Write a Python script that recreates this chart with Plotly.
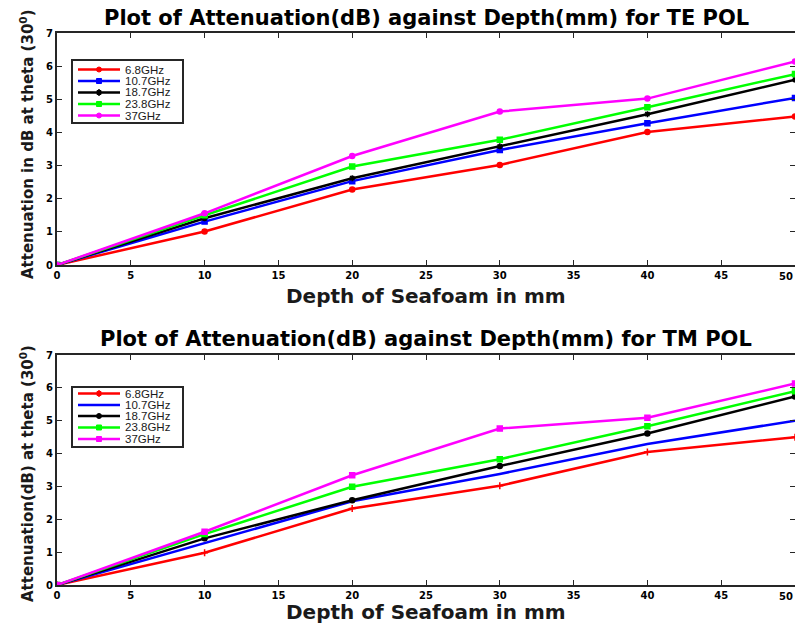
import plotly.graph_objects as go

# Depth of seafoam layer (mm)
depth = [0, 10, 20, 30, 40, 50]

freq_labels = ["6.8GHz", "10.7GHz", "18.7GHz", "23.8GHz", "37GHz"]
colors = ["#ff0000", "#0000ff", "#000000", "#00ff00", "#ff00ff"]

# Attenuation (dB) at theta = 30 deg, TE polarisation
te_68 = [0, 1.01, 2.28, 3.02, 4.01, 4.48]
te_107 = [0, 1.31, 2.53, 3.47, 4.28, 5.04]
te_187 = [0, 1.41, 2.62, 3.58, 4.55, 5.59]
te_238 = [0, 1.50, 2.97, 3.78, 4.76, 5.76]
te_37 = [0, 1.56, 3.29, 4.63, 5.02, 6.14]

# Attenuation (dB) at theta = 30 deg, TM polarisation
tm_68 = [0, 0.98, 2.33, 3.02, 4.05, 4.50]
tm_107 = [0, 1.27, 2.55, 3.38, 4.29, 5.00]
tm_187 = [0, 1.42, 2.58, 3.62, 4.61, 5.74]
tm_238 = [0, 1.55, 2.99, 3.83, 4.83, 5.90]
tm_37 = [0, 1.62, 3.34, 4.76, 5.09, 6.13]

x_ticks = [0, 5, 10, 15, 20, 25, 30, 35, 40, 45, 50]
y_ticks = [0, 1, 2, 3, 4, 5, 6, 7]

te_series = [te_68, te_107, te_187, te_238, te_37]
tm_series = [tm_68, tm_107, tm_187, tm_238, tm_37]
te_symbols = ["circle", "square", "asterisk-open", "square", "circle"]
tm_symbols = ["cross-thin-open", None, "circle", "square", "square"]

W, H = 795, 623
FONT = "DejaVu Sans, Liberation Sans, sans-serif"
TICKFONT = "Liberation Sans, Arial, sans-serif"
tick_font = dict(family=FONT, size=10, color="#000000", weight="bold")

fig = go.Figure()

for vals, name, col, sym in zip(te_series, freq_labels, colors, te_symbols):
    fig.add_trace(go.Scatter(
        x=depth, y=vals, name=name, mode="lines+markers", showlegend=False,
        line=dict(color=col, width=2.5),
        marker=dict(symbol=sym, size=5, color=col, line=dict(color=col, width=1.5)),
        xaxis="x", yaxis="y"))

for vals, name, col, sym in zip(tm_series, freq_labels, colors, tm_symbols):
    mode = "lines" if sym is None else "lines+markers"
    fig.add_trace(go.Scatter(
        x=depth, y=vals, name=name, mode=mode, showlegend=False,
        line=dict(color=col, width=2.5),
        marker=dict(symbol=sym or "circle", size=5, color=col, line=dict(color=col, width=1.5)),
        xaxis="x2", yaxis="y2"))

x0 = 57 / W
top_dom = [(H - 265) / H, (H - 33) / H]
bot_dom = [(H - 585) / H, (H - 355) / H]

axis_common = dict(
    showline=True, linecolor="#262626", linewidth=2, mirror="ticks",
    ticks="inside", ticklen=5, tickcolor="#262626", tickwidth=1,
    showgrid=False, zeroline=False, automargin=False,
    tickfont=tick_font,
)

fig.update_layout(
    width=W, height=H,
    margin=dict(l=0, r=0, t=0, b=0),
    paper_bgcolor="white", plot_bgcolor="white",
    showlegend=False,
    xaxis=dict(domain=[x0, 1], range=[0, 50], tickvals=x_ticks, anchor="y", **axis_common),
    yaxis=dict(domain=top_dom, range=[0, 7], tickvals=y_ticks, anchor="x", **axis_common),
    xaxis2=dict(domain=[x0, 1], range=[0, 50], tickvals=x_ticks, anchor="y2", **axis_common),
    yaxis2=dict(domain=bot_dom, range=[0, 7], tickvals=y_ticks, anchor="x2", **axis_common),
)


def py(pix):
    """Convert a pixel row (from the top) to paper y."""
    return (H - pix) / H


def px(pix):
    return pix / W


# Legend boxes drawn as a compact key (box, sample line, marker, label)
def add_key(box_top, box_bottom, rows, symbols):
    fig.add_shape(type="rect", xref="paper", yref="paper",
                  x0=px(72), x1=px(183), y0=py(box_bottom), y1=py(box_top),
                  line=dict(color="#262626", width=2), fillcolor="white", layer="above")
    for ry, name, col, sym in zip(rows, freq_labels, colors, symbols):
        fig.add_shape(type="line", xref="paper", yref="paper",
                      x0=px(78), x1=px(120), y0=py(ry), y1=py(ry),
                      line=dict(color=col, width=2.5), layer="above")
        if sym is not None:
            if sym == "circle":
                fig.add_shape(type="circle", xref="paper", yref="paper",
                              x0=px(96.5), x1=px(101.5), y0=py(ry + 2.5), y1=py(ry - 2.5),
                              line=dict(color=col, width=1), fillcolor=col, layer="above")
            elif sym == "square":
                fig.add_shape(type="rect", xref="paper", yref="paper",
                              x0=px(96.5), x1=px(101.5), y0=py(ry + 2.5), y1=py(ry - 2.5),
                              line=dict(color=col, width=1), fillcolor=col, layer="above")
            else:
                fig.add_shape(type="line", xref="paper", yref="paper",
                              x0=px(99), x1=px(99), y0=py(ry + 3.5), y1=py(ry - 3.5),
                              line=dict(color=col, width=1.5), layer="above")
                fig.add_shape(type="rect", xref="paper", yref="paper",
                              x0=px(97), x1=px(101), y0=py(ry + 2), y1=py(ry - 2),
                              line=dict(color=col, width=1), fillcolor=col, layer="above")
        fig.add_annotation(text=name, xref="paper", yref="paper", showarrow=False,
                           x=px(123), y=py(ry), xanchor="left", yanchor="middle",
                           font=dict(family=TICKFONT, size=11.5, color="#1a1a1a"))


add_key(60, 123, [69.5, 81, 92.5, 104, 115.5], te_symbols)
add_key(387, 447, [393.5, 405, 416, 427.5, 439], tm_symbols)

cx = (57 + 795) / 2 / W
title_font = dict(family=FONT, size=21, color="#000000", weight="bold")
label_font = dict(family=FONT, size=20, color="#1a1a1a", weight="bold")
ylabel_font = dict(family=FONT, size=15, color="#1a1a1a", weight="bold")

annotations = [
    dict(text="Plot of Attenuation(dB) against Depth(mm) for TE POL",
         x=cx, y=py(18), font=title_font),
    dict(text="Plot of Attenuation(dB) against Depth(mm) for TM POL",
         x=cx, y=py(339), font=title_font),
    dict(text="Depth of Seafoam in mm", x=cx, y=py(296), font=label_font),
    dict(text="Depth of Seafoam in mm", x=cx, y=py(612), font=label_font),
    dict(text="Attenuation in dB at theta (30<sup>0</sup>)", x=px(27), y=py(144),
         textangle=-90, font=ylabel_font),
    dict(text="Attenuation(dB) at theta (30<sup>0</sup>)", x=px(27), y=py(474),
         textangle=-90, font=ylabel_font),
]
for a in annotations:
    fig.add_annotation(xref="paper", yref="paper", showarrow=False,
                       xanchor="center", yanchor="middle", **a)

# last x tick label sits against the right figure edge
for ylab in (276, 596):
    fig.add_annotation(text="50", xref="paper", yref="paper", showarrow=False,
                       x=1, y=py(ylab), xanchor="right", yanchor="middle", font=tick_font)

fig.write_html("out.html")
